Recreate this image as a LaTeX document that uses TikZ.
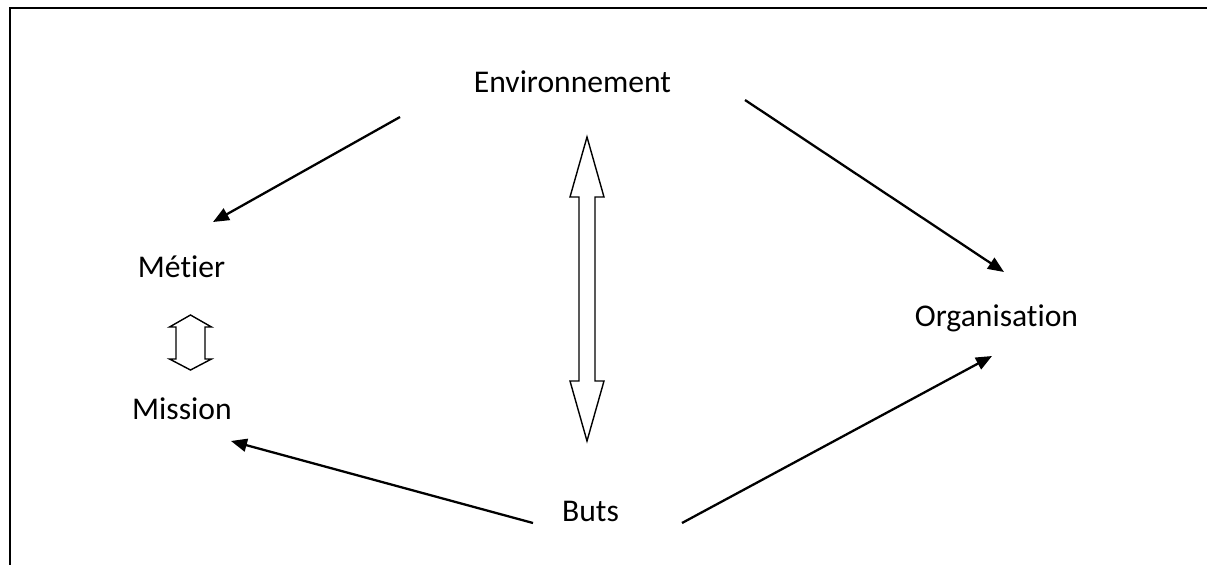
\documentclass[tikz,border=0pt]{standalone}
\usepackage{fontspec}
\setmainfont{Carlito}[Ligatures=NoCommon]
\usepackage{tikz}
\usetikzlibrary{arrows.meta,calc}

\begin{document}
\begin{tikzpicture}[x=0.02cm,y=-0.02cm,
  word/.style={anchor=base,inner sep=0pt,font=\fontsize{18}{21.6}\selectfont},
  link/.style={line width=1.3pt,-{Triangle[length=0.32cm,width=0.26cm]}},
  hollow/.style={line width=0.8pt,line join=miter}]
\useasboundingbox (0,0) rectangle (1207,565);
\draw[line width=1pt] (1207,8) -- (10,8) -- (10,565);
% the five terms
\node[word] (env) at (572.5,92) {Environnement};
\node[word] (metier) at (181.5,277) {Métier};
\node[word] (mission) at (182,419) {Mission};
\node[word] (org) at (996.5,326) {Organisation};
\node[word] (buts) at (590.5,521) {Buts};
% arrows
\draw[link] ([shift={(-172.5,25)}]env.base) -- ([shift={(31.5,-55)}]metier.base);
\draw[link] ([shift={(172.5,8)}]env.base) -- ([shift={(7.5,-54)}]org.base);
\draw[link] ([shift={(-57.5,2)}]buts.base) -- ([shift={(49,22)}]mission.base);
\draw[link] ([shift={(91.5,2)}]buts.base) -- ([shift={(-4.5,30)}]org.base);
% double arrows
\draw[hollow] (587,137) -- (604,197) -- (595,197) -- (595,381) -- (604,381) -- (587,441)
  -- (570,381) -- (579,381) -- (579,197) -- (570,197) -- cycle;
\draw[hollow] (190.5,315) -- (211.5,327) -- (205,327) -- (205,359) -- (211.5,359) -- (190.5,370)
  -- (169.5,359) -- (176,359) -- (176,327) -- (169.5,327) -- cycle;
\end{tikzpicture}
\end{document}
